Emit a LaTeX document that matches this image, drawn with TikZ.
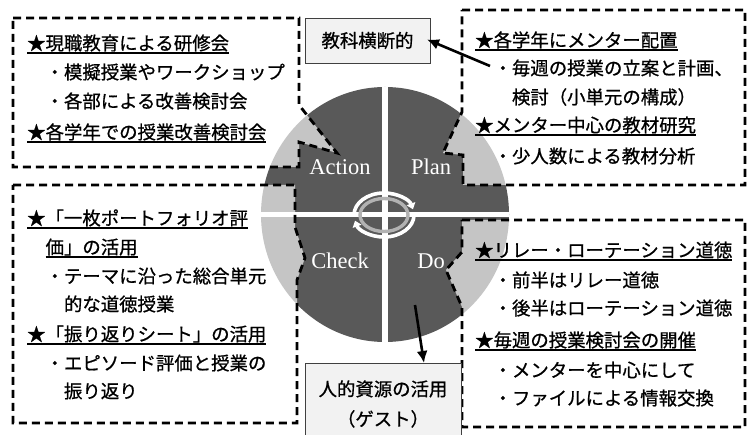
\documentclass[tikz,border=0pt]{standalone}
\usepackage{fontspec}
\newfontfamily\jp[FakeBold=0.8]{Noto Sans CJK JP}
\newfontfamily\enserif{Liberation Serif}
\usetikzlibrary{arrows.meta}
\definecolor{darkg}{HTML}{595959}
\definecolor{boxfill}{HTML}{F2F2F2}
\newcommand\myul[1]{\setbox0\hbox{#1}\rlap{\rule[-3.6pt]{\wd0}{1.6pt}}\box0}
\begin{document}
\begin{tikzpicture}[x=1pt,y=-1pt,
  txt/.style={anchor=base west, inner sep=0pt, font=\jp\fontsize{18.4}{22}\selectfont},
  callout/.style={draw=black, line width=2.8pt, dash pattern=on 8pt off 5pt, fill=white, fill opacity=0.65, draw opacity=1, line join=miter},
  lbl/.style={font=\enserif\fontsize{22.5}{22.5}\selectfont, text=white, inner sep=0pt},
  gbox/.style={draw=black!75, line width=0.8pt, fill=boxfill, inner sep=0pt, font=\jp\fontsize{18.4}{30}\selectfont},
  arr/.style={line width=2.6pt, -{Latex[length=12pt,width=11pt]}},
  crossline/.style={white, line width=5.5pt},
  cyc/.style={white, line width=3.6pt, -{Triangle[length=6pt,width=9pt]}}
]
\useasboundingbox (0,0) rectangle (749,435);
\fill[white] (0,0) rectangle (749,435);

% PDCA circle
\fill[darkg] (385,214.5) ellipse [x radius=124, y radius=127.5];
\draw[crossline] (385,87) -- (385,342);
\draw[crossline] (261,214.5) -- (509,214.5);

% cycle icon
\draw[gray!60, line width=3.4pt] (384,215) ellipse [x radius=24, y radius=16.5];
\draw[cyc] (384,215) ++(180:30 and 22) arc[start angle=180, end angle=345, x radius=30, y radius=22];
\draw[cyc] (384,215) ++(0:30 and 22) arc[start angle=0, end angle=165, x radius=30, y radius=22];

% callouts
\draw[callout] (13,18) -- (299,18) -- (299,105) -- (337,153) -- (299,142) -- (299,167) -- (13,167) -- cycle;
\draw[callout] (462,10) -- (745,10) -- (745,185) -- (463,185) -- (463,155) -- (443,153) -- (462,112) -- cycle;
\draw[callout] (13,185) -- (295,185) -- (295,227) -- (305,258) -- (297,280) -- (297,423) -- (13,423) -- cycle;
\draw[callout] (462,220) -- (745,220) -- (745,427) -- (462,427) -- (462,307) -- (446,270) -- (462,252) -- cycle;

% quadrant labels
\node[lbl] (act) at (340,167) {Action};
\node[lbl] (pln) at (431,167) {Plan};
\node[lbl] (chk) at (340,261) {Check};
\node[lbl] (do) at (431,261) {Do};

% top-left text
\node[txt] (tl1) at (27,50) {\myul{★現職教育による研修会}};
\node[txt] (tl2) at (45.4,79) {・模擬授業やワークショップ};
\node[txt] (tl3) at (45.4,108) {・各部による改善検討会};
\node[txt] (tl4) at (27,139) {\myul{★各学年での授業改善検討会}};

% top-right text
\node[txt] (tr1) at (475,47) {\myul{★各学年にメンター配置}};
\node[txt] (tr2) at (493.4,75) {・毎週の授業の立案と計画、};
\node[txt] (tr3) at (511.8,104) {検討（小単元の構成）};
\node[txt] (tr4) at (475,132) {\myul{★メンター中心の教材研究}};
\node[txt] (tr5) at (493.4,163) {・少人数による教材分析};

% bottom-left text
\node[txt] (bl1) at (27,225) {\myul{★「一枚ポートフォリオ評}};
\node[txt] (bl2) at (45.4,254) {\myul{価」の活用}};
\node[txt] (bl3) at (45.4,283) {・テーマに沿った総合単元};
\node[txt] (bl4) at (63.8,311) {的な道徳授業};
\node[txt] (bl5) at (27,341) {\myul{★「振り返りシート」の活用}};
\node[txt] (bl6) at (45.4,370) {・エピソード評価と授業の};
\node[txt] (bl7) at (63.8,398) {振り返り};

% bottom-right text
\node[txt] (br1) at (475,257) {\myul{★リレー・ローテーション道徳}};
\node[txt] (br2) at (493.4,287) {・前半はリレー道徳};
\node[txt] (br3) at (493.4,315) {・後半はローテーション道徳};
\node[txt] (br4) at (475,347) {\myul{★毎週の授業検討会の開催}};
\node[txt] (br5) at (493.4,377) {・メンターを中心にして};
\node[txt] (br6) at (493.4,405) {・ファイルによる情報交換};

% grey boxes
\node[gbox, minimum width=125pt, minimum height=45pt] (kyo) at (367.5,40.5) {教科横断的};
\node[gbox, minimum width=156pt, minimum height=82pt, align=center] (jin) at (383,404) {人的資源の活用\\（ゲスト）};

% arrows
\coordinate (a1s) at (490,66);
\coordinate (a1e) at (427,39.5);
\draw[arr] (a1s) -- (a1e);
\coordinate (a2s) at (415,305);
\coordinate (a2e) at (424,363);
\draw[arr] (a2s) -- (a2e);
\end{tikzpicture}
\end{document}
